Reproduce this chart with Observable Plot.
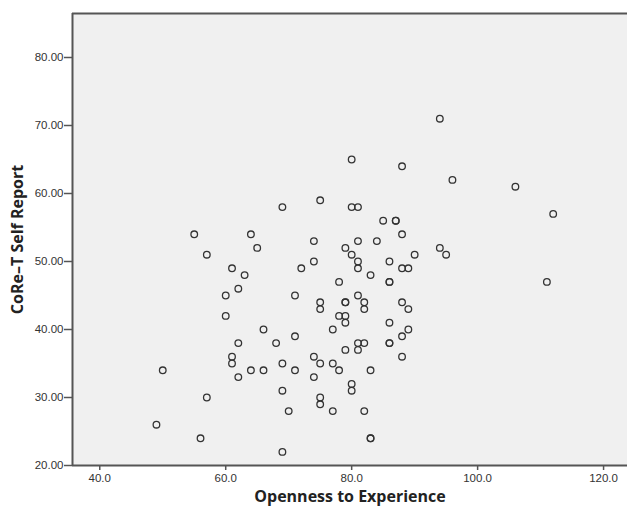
<!DOCTYPE html>
<html>
<head>
<meta charset="utf-8">
<script src="https://cdn.jsdelivr.net/npm/d3@7"></script>
<script src="https://cdn.jsdelivr.net/npm/@observablehq/plot@0.6"></script>
<style>
  html, body { margin: 0; padding: 0; background: #ffffff; }
  #chart svg { display: block; }
</style>
</head>
<body>
<div id="chart"></div>
<script>
// Openness to Experience (x) and CoRe-T Self Report (y)
const openness = [49,50,55,56,57,57,60,60,61,61,61,62,62,62,63,64,64,65,66,66,68,69,69,69,69,70,71,71,71,72,74,74,74,74,75,75,75,75,75,75,77,77,77,78,78,78,79,79,79,79,79,79,80,80,80,80,80,81,81,81,81,81,81,81,82,82,82,82,83,83,83,83,84,85,86,86,86,86,86,86,87,87,88,88,88,88,88,88,89,89,89,90,94,94,95,96,106,111,112];
const coreT    = [26,34,54,24,51,30,45,42,49,36,35,46,38,33,48,54,34,52,40,34,38,58,35,31,22,28,45,39,34,49,53,50,36,33,59,44,43,35,30,29,40,35,28,47,42,34,52,44,44,42,41,37,65,58,51,32,31,58,53,50,49,45,38,37,44,43,38,28,48,34,24,24,53,56,50,47,47,41,38,38,56,56,64,54,49,44,39,36,49,43,40,51,71,52,51,62,61,47,57];

const xTicks = [40, 60, 80, 100, 120];
const yTicks = [20, 30, 40, 50, 60, 70, 80];
const xTitle = "Openness to Experience";
const yTitle = "CoRe\u2013T Self Report";

const data = openness.map((x, i) => ({x, y: coreT[i]}));
const xDomain = [35.67, 123.8];
const yDomain = [20, 86.47];
const axisColor = "#555";
const tickFont = "Liberation Sans, Arial, sans-serif";
const titleFont = "Open Sans, DejaVu Sans, sans-serif";

const chart = Plot.plot({
  width: 627,
  height: 511,
  marginLeft: 72,
  marginRight: 0,
  marginTop: 13,
  marginBottom: 46,
  style: {background: "#ffffff", fontFamily: tickFont},
  x: {domain: xDomain},
  y: {domain: yDomain},
  marks: [
    Plot.frame({fill: "#f0f0f0", stroke: null}),
    Plot.axisX({ticks: xTicks, tickFormat: d3.format(".1f"), tickSize: 5, tickPadding: 3,
      stroke: axisColor, strokeWidth: 1.5, fill: "#333", fontSize: 11.5, label: null}),
    Plot.axisY({ticks: yTicks, tickFormat: d3.format(".2f"), tickSize: 8, tickPadding: 1,
      stroke: axisColor, strokeWidth: 1.5, fill: "#333", fontSize: 11.5, label: null}),
    Plot.ruleX([xDomain[0]], {stroke: axisColor, strokeWidth: 2}),
    Plot.ruleY([yDomain[0]], {stroke: axisColor, strokeWidth: 2}),
    Plot.ruleY([yDomain[1]], {stroke: axisColor, strokeWidth: 2}),
    Plot.dot(data, {x: "x", y: "y", r: 3.3, stroke: "#333", strokeWidth: 1.3, fill: "none"}),
    Plot.text([xTitle], {frameAnchor: "bottom", dy: 36, text: d => d, fontWeight: "bold",
      fontSize: 16, fill: "#222", fontFamily: titleFont, textAnchor: "middle"}),
    Plot.text([yTitle], {frameAnchor: "left", dx: -55, rotate: -90, text: d => d, fontWeight: "bold",
      fontSize: 16, fill: "#222", fontFamily: titleFont, textAnchor: "middle"})
  ]
});
document.getElementById("chart").appendChild(chart);
</script>
</body>
</html>
